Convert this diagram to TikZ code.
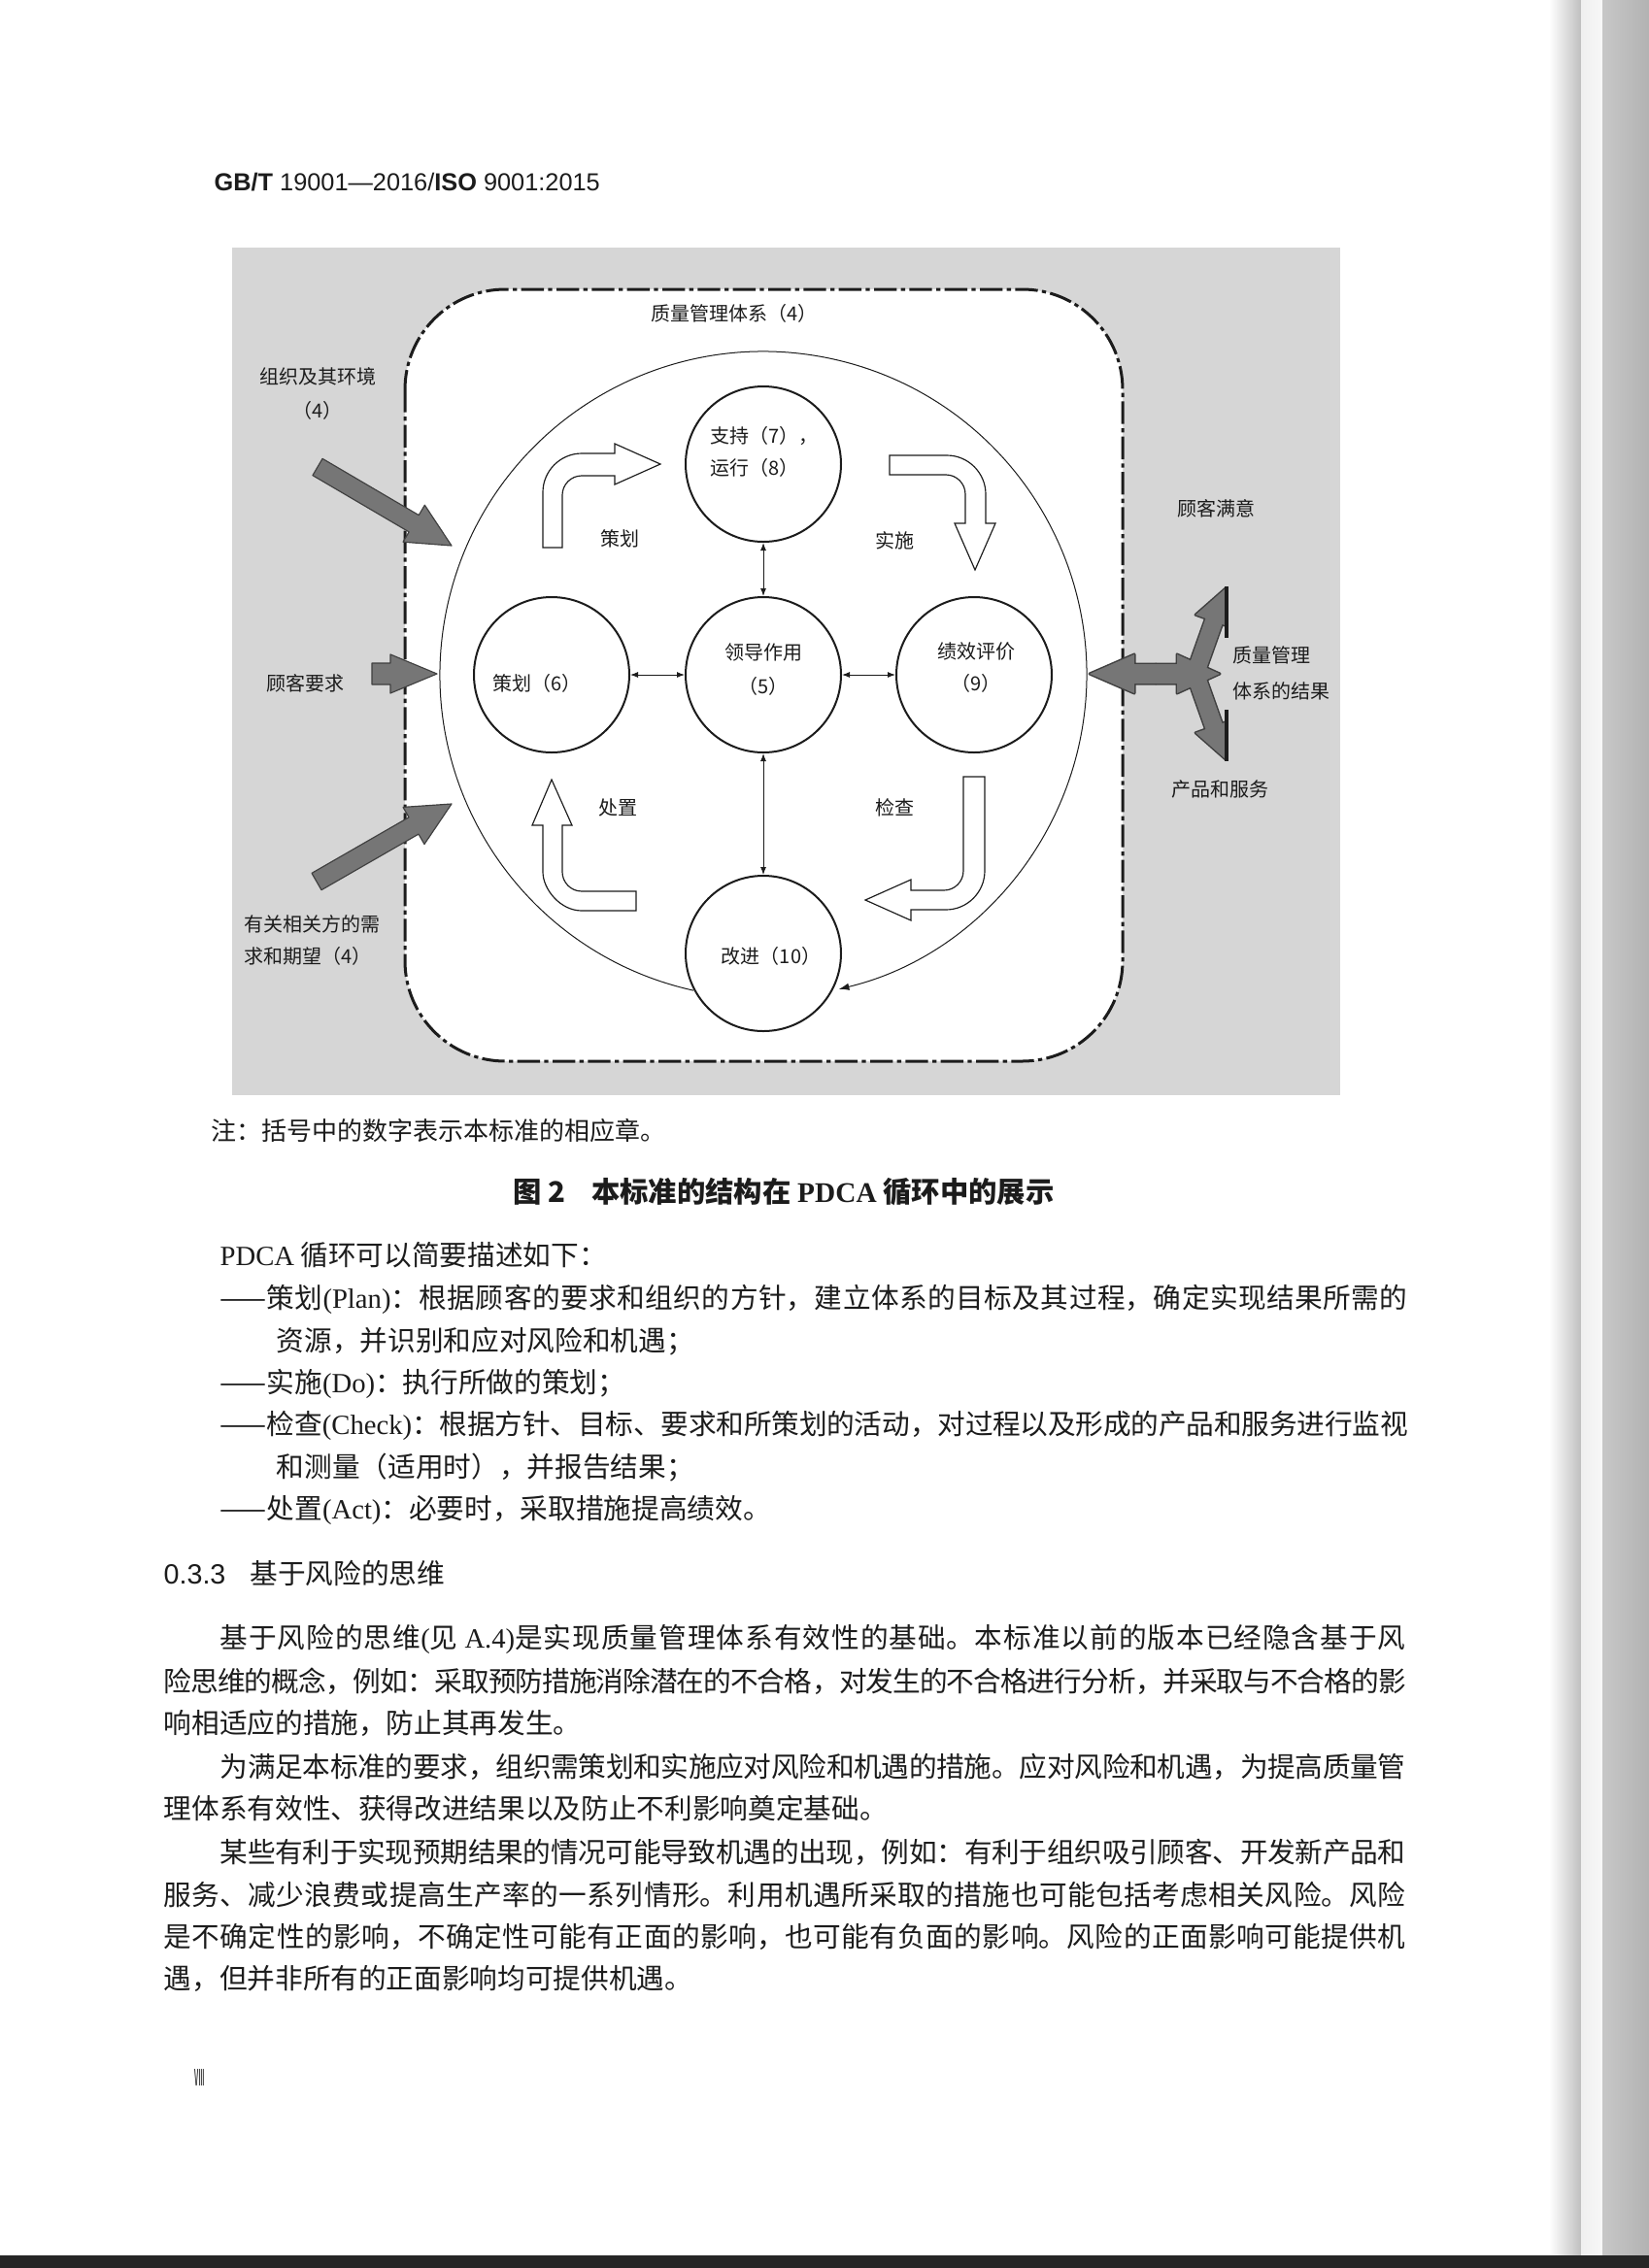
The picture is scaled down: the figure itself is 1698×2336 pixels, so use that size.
\documentclass[tikz,border=0pt]{standalone}
\usepackage{fontspec}
\usepackage{graphicx}
\setmainfont{Noto Sans CJK SC}
\newfontfamily\latf{Liberation Serif}
\newfontfamily\hdf{Liberation Sans}
\usetikzlibrary{calc,arrows.meta}
\XeTeXlinebreaklocale "zh"
\XeTeXlinebreakskip=0pt plus 1.5pt minus 0.6pt
\XeTeXlinebreakpenalty=10000
\definecolor{bggray}{RGB}{214,214,214}
\definecolor{arrgray}{RGB}{118,118,118}
\definecolor{inkc}{RGB}{28,28,28}
% fat arrow: name, tail, tip, shaft half width, head half width, head length
\newcommand\fatdef[6]{%
  \coordinate (#1-b) at ($(#3)!#6!(#2)$);
  \coordinate (#1-t1) at ($(#2)!#4!90:(#3)$);
  \coordinate (#1-t2) at ($(#2)!#4!-90:(#3)$);
  \coordinate (#1-s1) at ($(#1-b)!#4!90:(#3)$);
  \coordinate (#1-s2) at ($(#1-b)!#4!-90:(#3)$);
  \coordinate (#1-h1) at ($(#1-b)!#5!90:(#3)$);
  \coordinate (#1-h2) at ($(#1-b)!#5!-90:(#3)$);
}
\newcommand\fatpath[2]{(#1-t1) -- (#1-s1) -- (#1-h1) -- (#2) -- (#1-h2) -- (#1-s2) -- (#1-t2) -- cycle}
\begin{document}
\begin{tikzpicture}[x=0.3pt,y=-0.3pt,
  bodyl/.style={anchor=west, inner sep=0pt, text=inkc, font=\fontsize{8.6}{13}\selectfont},
  fullln/.style={bodyl, text width=#1, align=justify, execute at begin node={\parfillskip=0pt\relax}},
  lbl/.style={inner sep=0pt, text=inkc, font=\fontsize{6}{10}\selectfont},
  circ/.style={circle, draw=inkc, line width=0.6pt, minimum size=48pt, inner sep=0pt},
  conn/.style={draw=inkc, line width=0.3pt, {Latex[length=2.4pt,width=1.8pt]}-{Latex[length=2.4pt,width=1.8pt]}},
  hollow/.style={draw=inkc, line width=0.35pt, fill=white, line join=miter},
  grayarr/.style={fill=arrgray, draw=black!75, line width=0.35pt, line join=round},
  qmsframe/.style={draw=inkc, line width=0.9pt, fill=white, rounded corners=31pt, dash pattern=on 7pt off 1.3pt on 1.3pt off 1.3pt},
]
\useasboundingbox (0,0) rectangle (1698,2336);
\fill[white] (0,0) rectangle (1698,2336);
% scan edges
\shade[left color=white, right color=black!25] (1595,0) rectangle (1628,2323);
\shade[left color=black!6, right color=black!3] (1628,0) rectangle (1650,2323);
\shade[left color=black!22, right color=black!30] (1650,0) rectangle (1698,2323);
\fill[black!85] (0,2323) rectangle (1698,2336);

% header
\node[anchor=west, inner sep=0pt, text=inkc, font=\hdf\fontsize{7.6}{9}\selectfont] (hdr) at (220,188) {\textbf{GB/T} 19001—2016/\textbf{ISO} 9001:2015};

% figure background and frame
\fill[bggray] (239,255) rectangle (1380,1128);
\draw[qmsframe] (417,298) rectangle (1156,1093);

% big cycle
\coordinate (bigc) at (786,695);
\draw[draw=inkc, line width=0.3pt, -{Latex[length=3.2pt,width=2.2pt]}] ($(bigc)+(102.5:333)$) arc[start angle=102.5, end angle=436.5, radius=333];

% circles
\node[circ, fill=white] (sup) at (786,478) {};
\node[circ, fill=white] (plan) at (568,695) {};
\node[circ, fill=white] (lead) at (786,695) {};
\node[circ, fill=white] (perf) at (1003,695) {};
\node[circ, fill=white] (impr) at (786,982) {};

\draw[conn] (sup) -- (lead);
\draw[conn] (plan) -- (lead);
\draw[conn] (lead) -- (perf);
\draw[conn] (lead) -- (impr);

% hollow PDCA arrows
\draw[hollow] (559,564) -- (559,507) .. controls (559,485) and (577,467) .. (599,467) -- (633,467) -- (633,457) -- (680,478) -- (633,499) -- (633,490) -- (599,490) .. controls (588,490) and (579,499) .. (579,510) -- (579,564) -- cycle;
\draw[hollow] (916,469) -- (975,469) .. controls (997,469) and (1015,487) .. (1015,509) -- (1015,539) -- (1025,539) -- (1004,587) -- (983,539) -- (994,539) -- (994,509) .. controls (994,498) and (985,489) .. (974,489) -- (916,489) -- cycle;
\draw[hollow] (992,800) -- (1014,800) -- (1014,897) .. controls (1014,919) and (996,937) .. (974,937) -- (938,937) -- (938,948) -- (891,927) -- (938,906) -- (938,917) -- (972,917) .. controls (983,917) and (992,908) .. (992,897) -- cycle;
\draw[hollow] (655,918) -- (655,938) -- (599,938) .. controls (577,938) and (559,916) .. (559,898) -- (559,850) -- (548,850) -- (568,803) -- (589,850) -- (579,850) -- (579,898) .. controls (579,909) and (588,918) .. (599,918) -- cycle;

% gray input arrows
\coordinate (orgtail) at (327,481); \coordinate (orgtip) at (465,562);
\coordinate (crtail) at (383,694); \coordinate (crtip) at (450,694);
\coordinate (iptail) at (326,908); \coordinate (iptip) at (465,828);
\fatdef{ga}{orgtail}{orgtip}{3pt}{6.6pt}{13.5pt}
\fatdef{gb}{crtail}{crtip}{3.3pt}{6pt}{14.4pt}
\fatdef{gc}{iptail}{iptip}{3pt}{6.6pt}{13.5pt}
\path[grayarr] \fatpath{ga}{orgtip};
\path[grayarr] \fatpath{gb}{crtip};
\path[grayarr] \fatpath{gc}{iptip};

% output arrow (results)
\coordinate (resj) at (1190,694);
\coordinate (restipL) at (1122,694);
\coordinate (restipR) at (1256,694);
\coordinate (resju) at (1230,696);
\coordinate (resjd) at (1230,692);
\coordinate (restipU) at (1262,606);
\coordinate (restipD) at (1262,782);
\fatdef{rl}{resj}{restipL}{3pt}{6pt}{13.8pt}
\fatdef{rr}{resj}{restipR}{3pt}{6pt}{13.2pt}
\fatdef{ru}{resju}{restipU}{2.7pt}{6pt}{10.8pt}
\fatdef{rd}{resjd}{restipD}{2.7pt}{6pt}{10.8pt}
\begin{scope}
\clip (1100,560) rectangle (1264,830);
\path[draw=black!75, line width=0.9pt, line join=round] \fatpath{rl}{restipL};
\path[draw=black!75, line width=0.9pt, line join=round] \fatpath{rr}{restipR};
\path[draw=black!75, line width=0.9pt, line join=round] \fatpath{ru}{restipU};
\path[draw=black!75, line width=0.9pt, line join=round] \fatpath{rd}{restipD};
\path[fill=arrgray] \fatpath{rl}{restipL};
\path[fill=arrgray] \fatpath{rr}{restipR};
\path[fill=arrgray] \fatpath{ru}{restipU};
\path[fill=arrgray] \fatpath{rd}{restipD};
\end{scope}
\coordinate (barua) at (1263,604); \coordinate (barub) at (1263,657);
\coordinate (barda) at (1263,731); \coordinate (bardb) at (1263,784);
\draw[inkc, line width=1pt] (barua) -- (barub);
\draw[inkc, line width=1pt] (barda) -- (bardb);

% diagram labels
\node[lbl] (qmst) at (756,323) {质量管理体系（4）};
\node[lbl, align=center, font=\fontsize{6}{10.5}\selectfont] (orgl) at (327,405) {组织及其环境\\（4）};
\node[lbl] (custr) at (314,704) {顾客要求};
\node[lbl, align=left, anchor=west, font=\fontsize{6}{9.9}\selectfont] (ipl) at (251,968) {有关相关方的需\\求和期望（4）};
\node[lbl] (csat) at (1252,524) {顾客满意};
\node[lbl, align=left, anchor=west, font=\fontsize{6}{11.1}\selectfont] (resl) at (1269,693) {质量管理\\体系的结果};
\node[lbl] (prod) at (1256,813) {产品和服务};
\node[lbl] (lplan) at (638,555) {策划};
\node[lbl] (ldo) at (921,557) {实施};
\node[lbl] (lact) at (636,832) {处置};
\node[lbl] (lchk) at (921,832) {检查};
\node[lbl, align=left, anchor=west, font=\fontsize{6}{9.9}\selectfont] (supt) at (731,465) {支持（7），\\运行（8）};
\node[lbl] (plant) at (553,704) {策划（6）};
\node[lbl, align=center, font=\fontsize{6}{10.5}\selectfont] (leadt) at (786,690) {领导作用\\（5）};
\node[lbl, align=center, font=\fontsize{6}{9.9}\selectfont] (perft) at (1005,688) {绩效评价\\（9）};
\node[lbl] (imprt) at (794,985) {改进（10）};

% note and caption
\node[anchor=west, inner sep=0pt, text=inkc, font=\fontsize{7.8}{9}\selectfont] (note) at (217,1165) {注：括号中的数字表示本标准的相应章。};
\node[inner sep=0pt, text=inkc, font=\bfseries\fontsize{8.8}{10}\selectfont] (cap) at (807,1228) {图 2\hspace{8pt}本标准的结构在 {\latf\bfseries PDCA} 循环中的展示};

% body text
\node[bodyl] (t0) at (226,1293) {{\latf PDCA} 循环可以简要描述如下：};
\node[fullln=366.9pt] (t1) at (226,1338) {——策划{\latf (Plan)}：根据顾客的要求和组织的方针，建立体系的目标及其过程，确定实现结果所需的};
\node[bodyl] (t2) at (284,1382) {资源，并识别和应对风险和机遇；};
\node[bodyl] (t3) at (226,1425) {——实施{\latf (Do)}：执行所做的策划；};
\node[fullln=366.9pt] (t4) at (226,1468) {——检查{\latf (Check)}：根据方针、目标、要求和所策划的活动，对过程以及形成的产品和服务进行监视};
\node[bodyl] (t5) at (284,1512) {和测量（适用时），并报告结果；};
\node[bodyl] (t6) at (226,1555) {——处置{\latf (Act)}：必要时，采取措施提高绩效。};
\node[bodyl] (h33) at (168,1620) {{\hdf 0.3.3}\hspace{7.5pt}基于风险的思维};
\node[fullln=366.3pt] (p1a) at (226,1688) {基于风险的思维{\latf (}见~{\latf A.4)}是实现质量管理体系有效性的基础。本标准以前的版本已经隐含基于风};
\node[fullln=383.7pt] (p1b) at (168,1732) {险思维的概念，例如：采取预防措施消除潜在的不合格，对发生的不合格进行分析，并采取与不合格的影};
\node[bodyl] (p1c) at (168,1775) {响相适应的措施，防止其再发生。};
\node[fullln=366.3pt] (p2a) at (226,1820) {为满足本标准的要求，组织需策划和实施应对风险和机遇的措施。应对风险和机遇，为提高质量管};
\node[bodyl] (p2b) at (168,1863) {理体系有效性、获得改进结果以及防止不利影响奠定基础。};
\node[fullln=366.3pt] (p3a) at (226,1908) {某些有利于实现预期结果的情况可能导致机遇的出现，例如：有利于组织吸引顾客、开发新产品和};
\node[fullln=383.7pt] (p3b) at (168,1952) {服务、减少浪费或提高生产率的一系列情形。利用机遇所采取的措施也可能包括考虑相关风险。风险};
\node[fullln=383.7pt] (p3c) at (168,1995) {是不确定性的影响，不确定性可能有正面的影响，也可能有负面的影响。风险的正面影响可能提供机};
\node[bodyl] (p3d) at (168,2038) {遇，但并非所有的正面影响均可提供机遇。};
\node[bodyl, font=\fontsize{7}{8}\selectfont] (pgn) at (200,2140) {\scalebox{0.45}[1]{Ⅷ}};
\end{tikzpicture}
\end{document}
